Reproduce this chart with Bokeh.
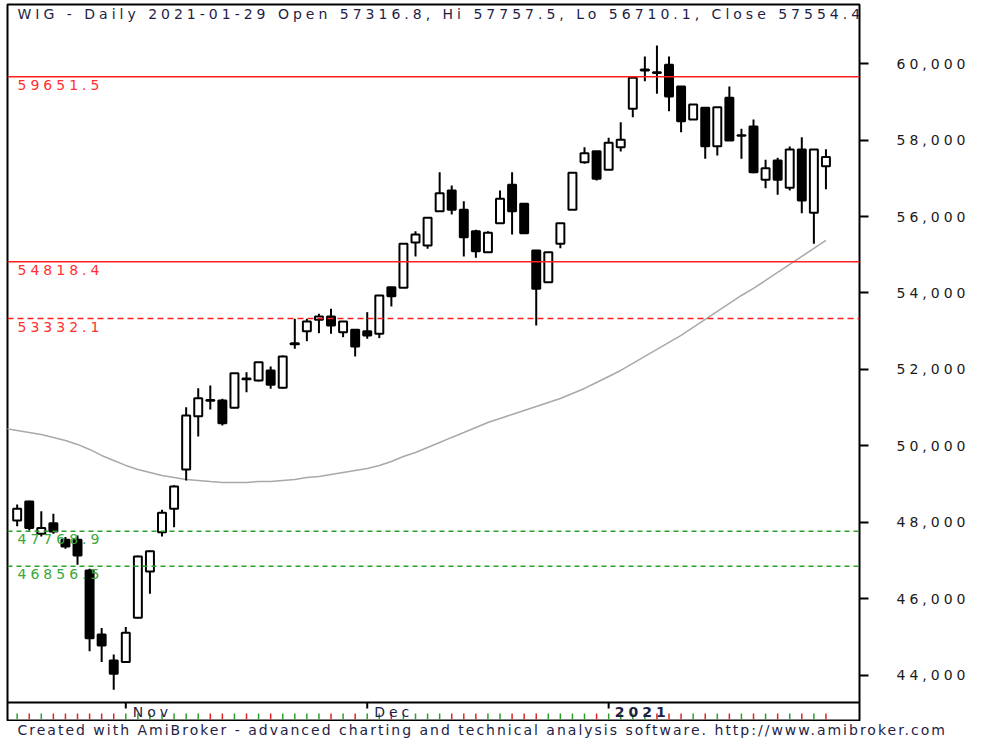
from bokeh.plotting import figure
from bokeh.layouts import column
from bokeh.models import (Range1d, FixedTicker, NumeralTickFormatter, Span,
                          ColumnDataSource)
from bokeh.core.properties import value
from bokeh.embed import file_html
from bokeh.resources import INLINE

# ---------------- data ----------------
symbol = "WIG"
period = "Daily"

dates = [
    "2020-10-20", "2020-10-21", "2020-10-22", "2020-10-23", "2020-10-26", "2020-10-27",
    "2020-10-28", "2020-10-29", "2020-10-30",
    "2020-11-02", "2020-11-03", "2020-11-04", "2020-11-05", "2020-11-06", "2020-11-09",
    "2020-11-10", "2020-11-12", "2020-11-13", "2020-11-16", "2020-11-17", "2020-11-18",
    "2020-11-19", "2020-11-20", "2020-11-23", "2020-11-24", "2020-11-25", "2020-11-26",
    "2020-11-27", "2020-11-30",
    "2020-12-01", "2020-12-02", "2020-12-03", "2020-12-04", "2020-12-07", "2020-12-08",
    "2020-12-09", "2020-12-10", "2020-12-11", "2020-12-14", "2020-12-15", "2020-12-16",
    "2020-12-17", "2020-12-18", "2020-12-21", "2020-12-22", "2020-12-23", "2020-12-28",
    "2020-12-29", "2020-12-30",
    "2021-01-04", "2021-01-05", "2021-01-07", "2021-01-08", "2021-01-11", "2021-01-12",
    "2021-01-13", "2021-01-14", "2021-01-15", "2021-01-18", "2021-01-19", "2021-01-20",
    "2021-01-21", "2021-01-22", "2021-01-25", "2021-01-26", "2021-01-27", "2021-01-28",
    "2021-01-29",
]

opens = [
    48054, 48551, 47706, 47983, 47549, 47549, 46747, 45074, 44394,
    44350, 45511, 46721, 47748, 48360, 49387, 50780, 51180, 51191, 51000, 51745,
    51714, 51975, 51523, 52660, 53002, 53300, 53387, 52976, 53039,
    53002, 52934, 54152, 54137, 55321, 55243, 56139, 56680, 56176, 55616, 55067,
    55825, 56829, 56333, 55112, 54283, 55287, 56176, 57420, 57707,
    57221, 57812, 58816, 59820, 59770, 59966, 59399, 58536, 58842, 57838, 59103,
    58110, 58353, 56960, 57464, 56751, 57752, 56097, 57316.8,
]
highs = [
    48472, 48570, 48297, 48229, 47618, 47662, 46791, 45239, 44551,
    45265, 47140, 47270, 48334, 48977, 51016, 51512, 51583, 51235, 51910, 51931,
    52200, 52080, 52367, 53326, 53326, 53457, 53588, 53270, 53050,
    53499, 53950, 54160, 55300, 55616, 55980, 57159, 56811, 56400, 55653, 55616,
    56680, 57159, 56340, 55120, 55075, 55830, 57150, 57812, 57715,
    58058, 58466, 59630, 60183, 60471, 60183, 59405, 58935, 58850, 58865, 59399,
    58293, 58536, 57483, 57535, 57830, 58073, 57760, 57757.5,
]
lows = [
    47905, 47793, 47636, 47706, 47314, 46896, 44637, 44350, 43628,
    44330, 45490, 46138, 47636, 47879, 49100, 50250, 50955, 50537, 50990, 51408,
    51687, 51497, 51497, 52542, 52741, 52950, 52934, 52846, 52341,
    52804, 52820, 53648, 54130, 54955, 55156, 56130, 56053, 54955, 54921, 55060,
    55820, 55530, 55560, 53151, 54280, 55172, 56170, 57378, 56942,
    57215, 57700, 58596, 59537, 59208, 58753, 58204, 58530, 57509, 57595, 57987,
    57509, 57132, 56740, 56568, 56680, 56087, 55287, 56710.1,
]
closes = [
    48360, 47853, 47853, 47767, 47374, 47139, 44977, 44787, 44047,
    45118, 47113, 47251, 48255, 48943, 50799, 51251, 51200, 50597, 51904, 51765,
    52192, 51601, 52341, 52685, 53256, 53387, 53151, 53256, 52602,
    52890, 53935, 53917, 55287, 55530, 55967, 56610, 56176, 55459, 55094, 55575,
    56463, 56139, 55564, 54111, 55067, 55825, 57143, 57655, 56986,
    57927, 58006, 59626, 59845, 59750, 59137, 58492, 58928, 57838, 58858, 57987,
    58125, 57159, 57263, 56960, 57752, 56419, 57752, 57554.4,
]

# long moving average (grey line); starts one session earlier
ma_dates = ["2020-10-19"] + dates
ma_values = [
    50459, 50407, 50354, 50302, 50224, 50145, 50041, 49910, 49753, 49622,
    49492, 49387, 49309, 49230, 49178, 49126, 49100, 49073, 49047, 49047,
    49047, 49073, 49073, 49100, 49126, 49178, 49204, 49257, 49309, 49361,
    49413, 49492, 49596, 49727, 49831, 49962, 50093, 50224, 50354, 50485,
    50616, 50720, 50825, 50929, 51034, 51139, 51243, 51374, 51505, 51661,
    51818, 51975, 52158, 52341, 52524, 52707, 52890, 53099, 53308, 53517,
    53726, 53935, 54119, 54328, 54537, 54746, 54955, 55164, 55373,
]

resistance_levels = [59651.5, 54818.4]      # solid red
dashed_red_levels = [53332.1]               # dashed red
support_levels = [47768.9, 46856.5]         # dashed green

price_ticks = [44000, 46000, 48000, 50000, 52000, 54000, 56000, 58000, 60000]

month_labels = ["Nov", "Dec"]
month_starts = ["2020-11-02", "2020-12-01"]
year_labels = ["2021"]
year_starts = ["2021-01-04"]

footer_text = ("Created with AmiBroker - advanced charting and technical analysis "
               "software. http://www.amibroker.com")

# ---------------- derived ----------------
idx = {d: i for i, d in enumerate(dates)}
idx["2020-10-19"] = -1
xs = [idx[d] for d in dates]
up = [c >= o for o, c in zip(opens, closes)]
body_top = [max(o, c) for o, c in zip(opens, closes)]
body_bot = [min(o, c) for o, c in zip(opens, closes)]
body_fill = ["#ffffff" if u else "#000000" for u in up]
prev_close = [closes[0] - 1] + closes[:-1]
tick_cols = ["#2ca02c" if c >= pc else "#e02424" for c, pc in zip(closes, prev_close)]

src = ColumnDataSource(dict(x=xs, o=opens, h=highs, l=lows, c=closes,
                            top=body_top, bot=body_bot, fill=body_fill, tcol=tick_cols))

FONT = value("DejaVu Sans")
FS = "14px"
TXT = "#1e1e46"
X0, X1 = -0.80, 69.78
Y0, Y1 = 42823.5, 61542.5

# ---------------- main chart ----------------
p = figure(width=981, height=721,
           x_range=Range1d(X0, X1), y_range=Range1d(Y0, Y1),
           y_axis_location="right", x_axis_location=None,
           toolbar_location=None, output_backend="svg",
           min_border_left=7, min_border_right=122, min_border_top=4, min_border_bottom=1,
           outline_line_color="#000000", outline_line_width=2,
           background_fill_color="#ffffff", border_fill_color="#ffffff")
p.frame_align = False
p.styles = {"letter-spacing": "4px"}
p.grid.grid_line_color = None
p.extra_y_ranges = {"strip": Range1d(0, 716)}

ax = p.yaxis[0]
ax.ticker = FixedTicker(ticks=price_ticks, minor_ticks=[])
ax.formatter = NumeralTickFormatter(format="0,0")
ax.axis_line_color = None
ax.major_tick_in = 0
ax.major_tick_out = 9
ax.major_tick_line_width = 2
ax.major_tick_line_color = "#000000"
ax.minor_tick_line_color = None
ax.major_label_standoff = 28
ax.major_label_text_font = "DejaVu Sans"
ax.major_label_text_font_size = FS
ax.major_label_text_color = "#1a1a1a"

# moving average
p.line([idx[d] for d in ma_dates], ma_values, line_color="#a9a9a9", line_width=1.5)

# candles
p.segment(x0="x", y0="h", x1="x", y1="l", source=src, line_color="#000000", line_width=2)
p.vbar(x="x", width=0.66, top="top", bottom="bot", source=src,
       fill_color="fill", line_color="#000000", line_width=2)

# horizontal levels
for lv in resistance_levels:
    p.add_layout(Span(location=lv, dimension="width", line_color="#ff2020", line_width=1.5))
for lv in dashed_red_levels:
    p.add_layout(Span(location=lv, dimension="width", line_color="#ff2020", line_width=1.5,
                      line_dash="6 4"))
for lv in support_levels:
    p.add_layout(Span(location=lv, dimension="width", line_color="#2ca02c", line_width=1.5,
                      line_dash="5 4"))

red_lv = resistance_levels + dashed_red_levels
p.text(x=[X0] * len(red_lv), y=red_lv, text=[f"{v:.1f}" for v in red_lv],
       x_offset=10, y_offset=8, text_baseline="middle", text_align="left",
       text_font=FONT, text_font_size=FS, text_color="#ff3030")
p.text(x=[X0] * len(support_levels), y=support_levels,
       text=[f"{v:.1f}" for v in support_levels],
       x_offset=10, y_offset=8, text_baseline="middle", text_align="left",
       text_font=FONT, text_font_size=FS, text_color="#3aa83a")

# header
header = (f"{symbol} - {period} {dates[-1]} Open {opens[-1]:.1f}, Hi {highs[-1]:.1f}, "
          f"Lo {lows[-1]:.1f}, Close {closes[-1]:.1f}")
p.text(x=[X0], y=[Y1], text=[header], x_offset=10, y_offset=9,
       text_baseline="middle", text_align="left",
       text_font=FONT, text_font_size=FS, text_color=TXT)

# ---------------- date strip ----------------
p.add_layout(Span(location=18, dimension="width", y_range_name="strip",
                  line_color="#000000", line_width=2))
p.segment(x0="x", y0=1, x1="x", y1=7, source=src, line_color="tcol", line_width=1.5,
          y_range_name="strip")
mx = [idx[d] for d in month_starts + year_starts]
p.segment(x0=mx, y0=[18] * len(mx), x1=mx, y1=[12] * len(mx), line_color="#000000",
          line_width=2, y_range_name="strip")
p.text(x=[idx[d] for d in month_starts], y=[9] * len(month_starts), text=month_labels,
       x_offset=7, text_baseline="middle", text_align="left", y_range_name="strip",
       text_font=FONT, text_font_size=FS, text_color=TXT)
p.text(x=[idx[d] for d in year_starts], y=[9] * len(year_starts), text=year_labels,
       x_offset=6, text_baseline="middle", text_align="left", y_range_name="strip",
       text_font=FONT, text_font_size=FS, text_font_style="bold", text_color=TXT)

# ---------------- footer line ----------------
f = figure(width=981, height=18, x_range=Range1d(0, 981), y_range=Range1d(0, 18),
           x_axis_location=None, y_axis_location=None, toolbar_location=None,
           output_backend="svg", min_border=0, outline_line_color=None,
           background_fill_color="#ffffff", border_fill_color="#ffffff")
f.frame_align = False
f.styles = {"letter-spacing": "2px"}
f.grid.grid_line_color = None
f.text(x=[17], y=[10], text=[footer_text], text_baseline="middle", text_align="left",
       text_font=FONT, text_font_size=FS, text_color=TXT)

layout = column(p, f, spacing=0)
open("out.html", "w").write(file_html(layout, INLINE))
